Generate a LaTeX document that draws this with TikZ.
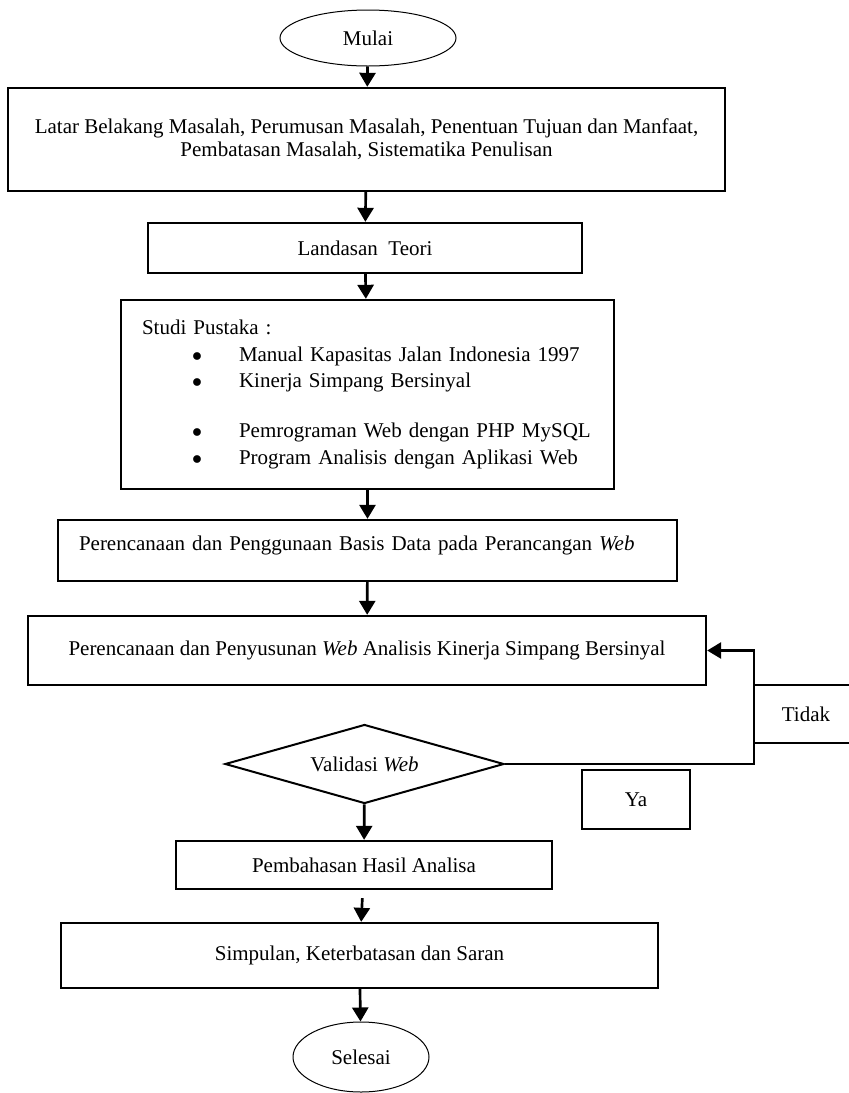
\documentclass[tikz,border=0pt]{standalone}
\usepackage{fontspec}
\setmainfont{Liberation Serif}
\usepackage{tikz}
\usetikzlibrary{arrows.meta,shapes.geometric}

\newcommand{\pointitem}{\hspace*{30pt}\makebox[28.2pt][l]{$\bullet$}}

\begin{document}
\begin{tikzpicture}[->,>={Triangle[length=8.4pt,width=9.6pt]},line width=1.6pt,
          x=0.6pt,y=-0.6pt,font=\fontsize{12.6}{13.8}\selectfont,
          step node/.style={rectangle,draw,line width=1.4pt,inner sep=0pt},
          end node/.style={ellipse,draw,line width=0.6pt,inner sep=0pt},
          cond node/.style={diamond,draw,line width=1.2pt,inner sep=0pt,aspect=3.5},
          note node/.style={rectangle,draw,line width=0.7pt,inner sep=0pt}]

        \useasboundingbox (0,0) rectangle (849,1093);
        \clip (0,0) rectangle (849,1093);

        \node[end node,minimum width=105.6pt,minimum height=33.6pt] (1) at (368,38) {Mulai};
        \node[step node,minimum width=430.2pt,minimum height=61.8pt,align=center] (2) at (366.5,139.5)
          {Latar Belakang Masalah, Perumusan Masalah, Penentuan Tujuan dan Manfaat,\\
           Pembatasan Masalah, Sistematika Penulisan};
        \node[step node,minimum width=260.4pt,minimum height=30pt] (3) at (365,248) {Landasan\ \ Teori};
        \node[step node,minimum width=295.8pt,minimum height=113.4pt,align=left,text width=270.6pt,
          inner xsep=12.6pt,font=\fontsize{12.6}{16}\selectfont] (4) at (367.5,394.5)
          {Studi Pustaka :\\
           \pointitem Manual Kapasitas Jalan Indonesia 1997\\
           \pointitem Kinerja Simpang Bersinyal\\[14pt]
           \pointitem Pemrograman Web dengan PHP MySQL\\
           \pointitem Program Analisis dengan Aplikasi Web};
        \node[step node,minimum width=371.4pt,minimum height=36.6pt,align=left,text width=346.2pt,
          inner xsep=12.6pt,text depth=9pt] (5) at (367.5,550.5)
          {Perencanaan dan Penggunaan Basis Data pada Perancangan \textit{Web}};
        \node[step node,minimum width=406.8pt,minimum height=41.4pt] (6) at (367,650.5)
          {Perencanaan dan Penyusunan \textit{Web} Analisis Kinerja Simpang Bersinyal};
        \node[cond node,minimum width=167.4pt,minimum height=47.4pt] (7) at (364.5,764) {Validasi \textit{Web}};
        \node[note node,minimum width=62.4pt,minimum height=34.8pt] (8) at (806,714) {Tidak};
        \node[note node,minimum width=64.8pt,minimum height=35.4pt] (9) at (636,799.5) {Ya};
        \node[step node,minimum width=225.6pt,minimum height=28.8pt] (10) at (364,865) {Pembahasan Hasil Analisa};
        \node[step node,minimum width=358.2pt,minimum height=39pt] (11) at (359.5,955.5)
          {Simpulan, Keterbatasan dan Saran};
        \node[end node,minimum width=81.6pt,minimum height=42pt] (12) at (361,1057) {Selesai};
        \coordinate (b) at (754,764);

        \path
        (1) edge (2)
        (2) edge (3)
        (3) edge (4)
        (4) edge (5)
        (5) edge (6)
        (7) edge (10)
        (10) edge[shorten <=4.8pt] (11)
        (11) edge (12);
        \draw (7) -- (b) |- (6);
      \end{tikzpicture}
\end{document}
